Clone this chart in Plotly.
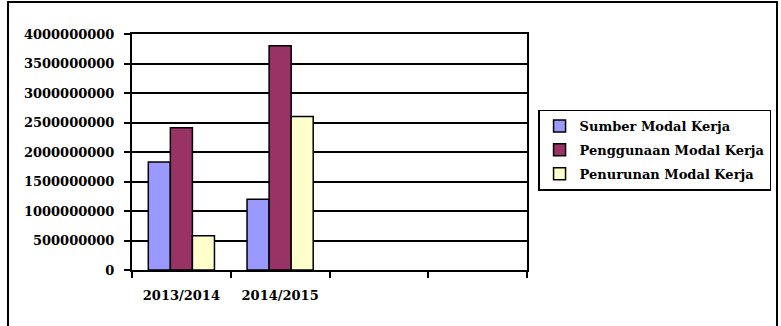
import plotly.graph_objects as go

categories = ["2013/2014", "2014/2015", " ", "  "]
sumber = [1830000000, 1200000000, None, None]
penggunaan = [2410000000, 3800000000, None, None]
penurunan = [580000000, 2600000000, None, None]
series_names = ["Sumber Modal Kerja", "Penggunaan Modal Kerja", "Penurunan Modal Kerja"]
colors = ["#9999FF", "#993366", "#FFFFCC"]
y_ticks = [0, 500000000, 1000000000, 1500000000, 2000000000, 2500000000,
           3000000000, 3500000000, 4000000000]

FONT = "DejaVu Serif"

fig = go.Figure()
for i, (name, vals, col) in enumerate(zip(series_names, [sumber, penggunaan, penurunan], colors)):
    fig.add_trace(go.Bar(
        x=categories, y=vals, name=name, legendgroup=f"g{i}",
        marker=dict(color=col, line=dict(color="black", width=1.5)),
    ))

fig.update_layout(
    width=781, height=326,
    margin=dict(l=132, r=254, t=34, b=56, autoexpand=False),
    paper_bgcolor="white", plot_bgcolor="white",
    barmode="group", bargap=0.33, bargroupgap=0,
    font=dict(family=FONT, size=13, color="black"),
    showlegend=True,
    legend=dict(
        x=1.028, y=0.68, xanchor="left", yanchor="top",
        bordercolor="black", borderwidth=1.5, bgcolor="white",
        font=dict(family=FONT, size=13, color="black", weight="bold"),
        itemwidth=30, tracegroupgap=4,
    ),
    xaxis=dict(
        type="category", categoryorder="array", categoryarray=categories,
        tickson="boundaries", ticks="outside", ticklen=6, tickwidth=1.5,
        tickcolor="black", showline=True, linecolor="black", linewidth=2,
        mirror=True, showgrid=False, ticklabelstandoff=12,
        tickfont=dict(family=FONT, size=13, color="black", weight="bold"),
    ),
    yaxis=dict(
        range=[0, 4000000000], tickvals=y_ticks, tickformat="d",
        ticks="outside", ticklen=6, tickwidth=1.5, tickcolor="black",
        showline=True, linecolor="black", linewidth=2, mirror=True,
        showgrid=True, gridcolor="black", gridwidth=2, zeroline=False,
        ticklabelstandoff=7,
        tickfont=dict(family=FONT, size=13, color="black", weight="bold"),
    ),
    shapes=[dict(
        type="rect", xref="paper", yref="paper",
        x0=-0.3139, x1=1.6329, y0=-0.254, y1=1.1356,
        line=dict(color="black", width=2), fillcolor="rgba(0,0,0,0)",
        layer="below",
    )],
)

fig.write_html("out.html")
